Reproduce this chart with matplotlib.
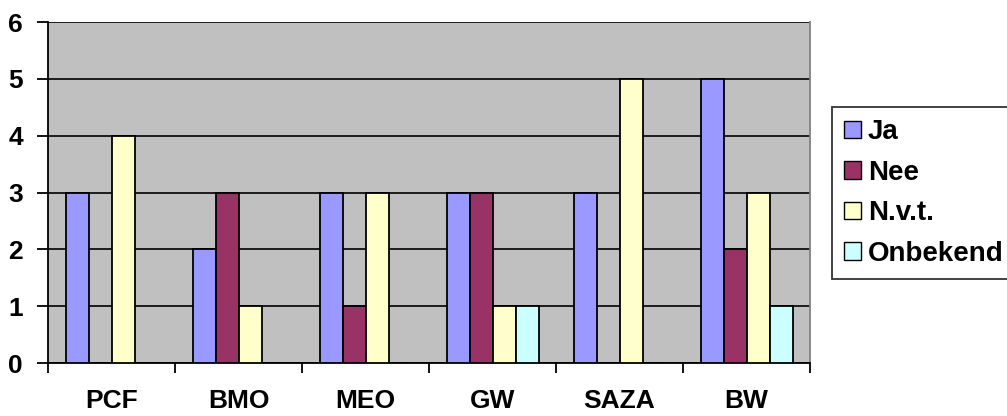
import numpy as np
import matplotlib
matplotlib.use("Agg")
import matplotlib.pyplot as plt

# categories and answer counts per series
categories = ["PCF", "BMO", "MEO", "GW", "SAZA", "BW"]
ja = [3, 2, 3, 3, 3, 5]
nee = [0, 3, 1, 3, 0, 2]
nvt = [4, 1, 3, 1, 5, 3]
onbekend = [0, 0, 0, 1, 0, 1]

series = [("Ja", ja, "#9999FF"),
          ("Nee", nee, "#993366"),
          ("N.v.t.", nvt, "#FFFFCC"),
          ("Onbekend", onbekend, "#CCFFFF")]

plt.rcParams["font.family"] = ["Liberation Sans", "DejaVu Sans"]
plt.rcParams["font.weight"] = "bold"

fig = plt.figure(figsize=(10.07, 4.16), dpi=100)
ax = fig.add_axes([0.0477, 0.1274, 0.7567, 0.8196])
ax.set_facecolor("#C0C0C0")

x = np.arange(len(categories))
width = 0.181
for i, (name, vals, color) in enumerate(series):
    offs = (i - 1.5) * width
    ax.bar(x + offs, vals, width, color=color, edgecolor="black",
           linewidth=1.3, label=name, zorder=3)

ax.set_xlim(-0.5, len(categories) - 0.5)
ax.set_ylim(0, 6)
ax.set_yticks(range(7))
ax.yaxis.grid(True, color="black", linewidth=1.2, zorder=1)
ax.set_axisbelow(True)

# category ticks sit between groups, labels centred under each group
ax.set_xticks(np.arange(-0.5, len(categories), 1.0))
ax.set_xticklabels([])
ax.set_xticks(x, minor=True)
ax.set_xticklabels(categories, minor=True, fontsize=19, fontweight="bold")
ax.tick_params(axis="x", which="minor", length=0, pad=19)
ax.tick_params(axis="x", which="major", direction="out", length=7, width=1.3)
ax.tick_params(axis="y", direction="out", length=8, width=1.3, pad=10,
               labelsize=19)
for lbl in ax.get_yticklabels():
    lbl.set_fontweight("bold")

ax.spines["left"].set_linewidth(1.3)
ax.spines["bottom"].set_linewidth(1.3)
ax.spines["top"].set_visible(False)
ax.spines["right"].set_color("#808080")
ax.spines["right"].set_linewidth(1.3)

leg = fig.legend(loc="upper left", bbox_to_anchor=(0.826, 0.743),
                 fontsize=20, frameon=True, fancybox=False,
                 handlelength=0.6, handleheight=0.6, handletextpad=0.25,
                 labelspacing=0.52, borderpad=0.45, borderaxespad=0)
leg.get_frame().set_edgecolor("black")
leg.get_frame().set_linewidth(1.3)
for t in leg.get_texts():
    t.set_fontweight("bold")
for h in leg.legend_handles:
    h.set_linewidth(1.0)

fig.savefig("out.png", dpi=100)
